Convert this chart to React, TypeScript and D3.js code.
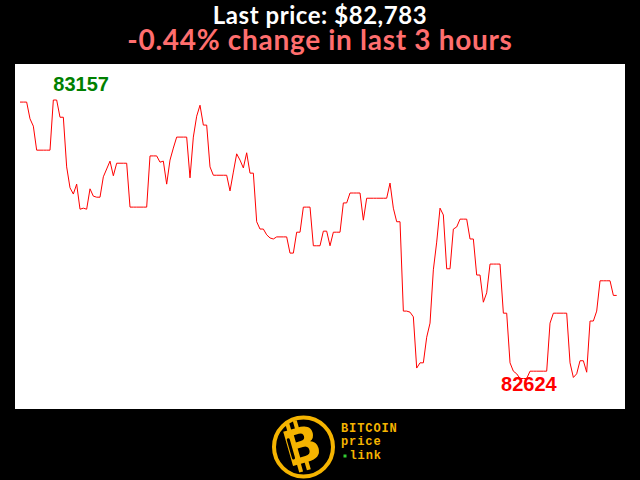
import React from "react";
import * as d3 from "d3";

// one price per minute over the last 3 hours
const prices: number[] = [
  83153, 83153, 83153, 83121, 83107, 83061, 83061, 83061, 83061, 83061,
  83157, 83157, 83124, 83124, 83029, 82989, 82977, 82996, 82948, 82950,
  82948, 82987, 82973, 82971, 82971, 83010, 83025, 83040, 83012, 83036,
  83036, 83036, 83036, 82952, 82952, 82952, 82952, 82952, 82952, 83050,
  83050, 83050, 83038, 83040, 82996, 83042, 83065, 83086, 83086, 83086,
  83086, 83008, 83086, 83126, 83147, 83109, 83109, 83029, 83013, 83013,
  83013, 83013, 83013, 82983, 83019, 83054, 83042, 83027, 83056, 83017,
  83017, 82924, 82910, 82910, 82899, 82893, 82891, 82895, 82895, 82895,
  82895, 82864, 82864, 82904, 82904, 82952, 82952, 82952, 82878, 82878,
  82878, 82906, 82906, 82878, 82904, 82904, 82904, 82960, 82960, 82979,
  82979, 82979, 82979, 82927, 82969, 82969, 82969, 82969, 82969, 82969,
  82969, 82998, 82950, 82924, 82924, 82753, 82753, 82751, 82742, 82644,
  82654, 82654, 82703, 82730, 82832, 82885, 82950, 82937, 82834, 82834,
  82910, 82914, 82929, 82929, 82929, 82891, 82891, 82822, 82822, 82770,
  82788, 82843, 82843, 82843, 82843, 82749, 82749, 82654, 82638, 82633,
  82624, 82624, 82624, 82638, 82638, 82638, 82638, 82638, 82638, 82730,
  82749, 82749, 82749, 82749, 82749, 82654, 82626, 82633, 82658, 82658,
  82636, 82734, 82734, 82753, 82811, 82811, 82811, 82811, 82783, 82783,
];

const titleLine1 = "Last price: $82,783";
const titleLine2 = "-0.44% change in last 3 hours";
const logoLines = ["BITCOIN", "price", "link"];

const GOLD = "#f5b400";

export default function App() {
  const W = 640;
  const H = 480;
  const panel = { x: 15, y: 64, w: 610, h: 345 };

  const x = d3.scaleLinear().domain([0, prices.length - 1]).range([20, 616.7]);
  const lo = d3.min(prices) as number;
  const hi = d3.max(prices) as number;
  const y = d3.scaleLinear().domain([lo, hi]).range([378.5, 100]);

  const line = d3
    .line<number>()
    .x((_, i) => x(i))
    .y((d) => y(d));

  const iMax = prices.indexOf(hi);
  const iMin = prices.indexOf(lo);

  const mono = "'Liberation Mono', 'DejaVu Sans Mono', monospace";

  return (
    <svg
      width={W}
      height={H}
      viewBox={`0 0 ${W} ${H}`}
      style={{ position: "absolute", left: 0, top: 0, display: "block" }}
    >
      <rect x={0} y={0} width={W} height={H} fill="#000" />
      <text
        x={320}
        y={24}
        textAnchor="middle"
        fill="#fff"
        fontFamily="Lato, 'Open Sans', sans-serif"
        fontWeight="bold"
        fontSize={24}
        letterSpacing={0.55}
      >
        {titleLine1}
      </text>
      <text
        x={320}
        y={50}
        textAnchor="middle"
        fill="#ff6e6e"
        fontFamily="Lato, 'Open Sans', sans-serif"
        fontWeight="bold"
        fontSize={28}
        letterSpacing={0.7}
      >
        {titleLine2}
      </text>

      <rect x={panel.x} y={panel.y} width={panel.w} height={panel.h} fill="#fff" />
      <path d={line(prices) || ""} fill="none" stroke="#ff0000" strokeWidth={1} />

      <text
        x={x(iMax)}
        y={y(hi) - 9}
        fill="#008000"
        fontFamily="'Liberation Sans', Arial, sans-serif"
        fontWeight="bold"
        fontSize={20}
      >
        {hi}
      </text>
      <text
        x={x(iMin) - 19}
        y={y(lo) + 12}
        fill="#ff0000"
        fontFamily="'Liberation Sans', Arial, sans-serif"
        fontWeight="bold"
        fontSize={20}
      >
        {lo}
      </text>

      {/* logo */}
      <g>
        <circle cx={303.5} cy={447} r={29.5} fill="#000" stroke={GOLD} strokeWidth={4} />
        <g transform="translate(301,446) rotate(-16)">
          <rect x={-9} y={-26} width={4} height={9} fill={GOLD} />
          <rect x={-1} y={-26} width={4} height={9} fill={GOLD} />
          <rect x={-9} y={16} width={4} height={9} fill={GOLD} />
          <rect x={-1} y={16} width={4} height={9} fill={GOLD} />
          <text
            x={1}
            y={17}
            textAnchor="middle"
            fill={GOLD}
            fontFamily="'DejaVu Sans', sans-serif"
            fontWeight="bold"
            fontSize={49}
          >
            B
          </text>
          <rect x={-12} y={-11} width={3} height={22} rx={1.5} fill="#000" />
        </g>
        <text x={341} y={432} fill={GOLD} fontFamily={mono} fontWeight="bold" fontSize={12} letterSpacing={0.9}>
          {logoLines[0]}
        </text>
        <text x={341} y={445} fill={GOLD} fontFamily={mono} fontWeight="bold" fontSize={12} letterSpacing={0.9}>
          {logoLines[1]}
        </text>
        <rect x={343.5} y={454.5} width={3} height={3} fill="#33cc33" />
        <text x={349.5} y={459} fill={GOLD} fontFamily={mono} fontWeight="bold" fontSize={12} letterSpacing={0.9}>
          {logoLines[2]}
        </text>
      </g>
    </svg>
  );
}
